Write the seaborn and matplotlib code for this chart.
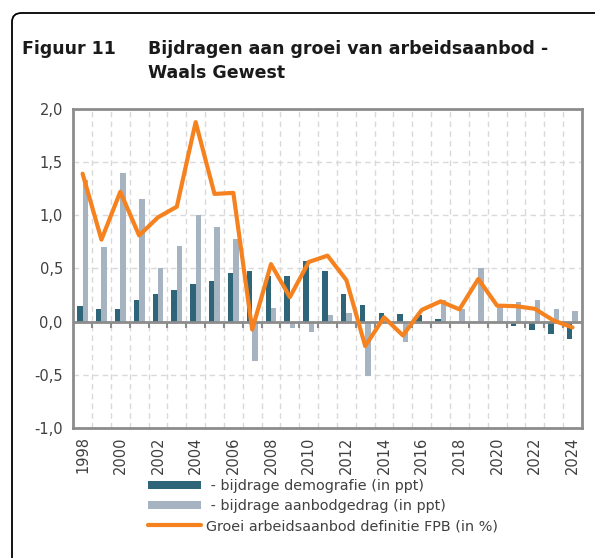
import pandas as pd
import numpy as np
import seaborn as sns
import matplotlib.pyplot as plt
from matplotlib.patches import FancyBboxPatch, Patch
from matplotlib.lines import Line2D

# Data
years = [str(y) for y in range(1998, 2025)]
demografie = [0.15, 0.12, 0.12, 0.20, 0.26, 0.30, 0.35, 0.38, 0.46, 0.48,
              0.43, 0.43, 0.57, 0.48, 0.26, 0.16, 0.08, 0.07, 0.06, 0.02,
              0.0, 0.0, 0.0, -0.04, -0.08, -0.12, -0.16]
aanbodgedrag = [1.33, 0.70, 1.40, 1.15, 0.50, 0.71, 1.00, 0.89, 0.78, -0.37,
                0.125, -0.06, -0.10, 0.06, 0.085, -0.51, 0.0, -0.19, 0.0, 0.20,
                0.115, 0.50, 0.15, 0.18, 0.20, 0.115, 0.10]
groei = [1.39, 0.77, 1.22, 0.81, 0.98, 1.08, 1.875, 1.20, 1.21, -0.075,
         0.54, 0.23, 0.56, 0.62, 0.39, -0.23, 0.04, -0.13, 0.11, 0.19,
         0.115, 0.40, 0.15, 0.145, 0.12, 0.01, -0.055]

lbl_dem = " - bijdrage demografie (in ppt)"
lbl_aan = " - bijdrage aanbodgedrag (in ppt)"
lbl_groei = "Groei arbeidsaanbod definitie FPB (in %)"

c_dem = "#2E6579"
c_aan = "#A6B3C1"
c_groei = "#F5821F"
c_axis = "#8C8C8C"
c_text = "#404040"

bars = pd.DataFrame({
    "jaar": years * 2,
    "waarde": demografie + aanbodgedrag,
    "reeks": [lbl_dem] * len(years) + [lbl_aan] * len(years),
})
line = pd.DataFrame({"jaar": years, "waarde": groei})

sns.set_style("white")
plt.rcParams["font.family"] = ["DejaVu Sans"]

fig = plt.figure(figsize=(5.95, 5.58), dpi=100)
ax = fig.add_axes([0.123, 0.233, 0.855, 0.572])

sns.barplot(data=bars, x="jaar", y="waarde", hue="reeks",
            palette=[c_dem, c_aan], width=0.58, gap=0, linewidth=0, ax=ax,
            legend=False, saturation=1, zorder=3)
sns.lineplot(data=line, x="jaar", y="waarde", color=c_groei, linewidth=3,
             ax=ax, zorder=4)

n = len(years)
ax.set_xlim(-0.5, n - 0.5)
ax.set_ylim(-1.0, 2.0)
ax.set_yticks(np.arange(-1.0, 2.01, 0.5))
ax.set_yticklabels([f"{v:.1f}".replace(".", ",") for v in np.arange(-1.0, 2.01, 0.5)],
                   fontsize=10.5, color=c_text)
ax.set_xticks(range(0, n, 2))
ax.set_xticklabels(years[::2], rotation=90, fontsize=10.5, color=c_text)
ax.set_xticks(np.arange(0.5, n - 1, 1), minor=True)
ax.tick_params(axis="x", which="both", length=0, pad=6)
ax.tick_params(axis="y", length=4, width=1.5, color=c_axis, direction="out")
ax.set_xlabel("")
ax.set_ylabel("")

ax.grid(axis="y", which="major", color="#D9D9D9", linestyle=(0, (4, 3)), linewidth=1)
ax.grid(axis="x", which="minor", color="#D9D9D9", linestyle=(0, (4, 3)), linewidth=1)
ax.set_axisbelow(True)

# zero line with small ticks below
ax.axhline(0, color=c_axis, linewidth=2, zorder=3.5)
ax.plot(np.arange(0.5, n - 1, 1), [0] * (n - 1), linestyle="none", marker=3,
        markersize=4, markeredgewidth=1.5, color=c_axis, zorder=3.5)

for s in ax.spines.values():
    s.set_color(c_axis)
    s.set_linewidth(2)

# title
title_y = 1 - 54 / 558
fig.text(22 / 595, title_y, "Figuur 11", fontsize=12.5, fontweight="bold",
         color="#1a1a1a", va="baseline")
fig.text(148 / 595, title_y, "Bijdragen aan groei van arbeidsaanbod -",
         fontsize=12.5, fontweight="bold", color="#1a1a1a", va="baseline")
fig.text(148 / 595, title_y - 24 / 558, "Waals Gewest",
         fontsize=12.5, fontweight="bold", color="#1a1a1a", va="baseline")

# legend
handles = [Patch(facecolor=c_dem, edgecolor="none"),
           Patch(facecolor=c_aan, edgecolor="none"),
           Line2D([0], [0], color=c_groei, linewidth=3)]
fig.legend(handles, [lbl_dem, lbl_aan, lbl_groei], loc="upper left",
           bbox_to_anchor=(135 / 595, 1 - 466 / 558), frameon=False,
           fontsize=10.4, handlelength=3.7, handleheight=0.55, handletextpad=0.3,
           labelspacing=0.42, labelcolor=c_text)

# rounded frame around the figure
frame = FancyBboxPatch((12 / 595, -0.1), 1.2, 1 - 13 / 558 + 0.1,
                       boxstyle="round,pad=0,rounding_size=0.016",
                       transform=fig.transFigure, facecolor="none",
                       edgecolor="black", linewidth=1.3, clip_on=False)
fig.patches.append(frame)

fig.savefig("out.png", dpi=100)
